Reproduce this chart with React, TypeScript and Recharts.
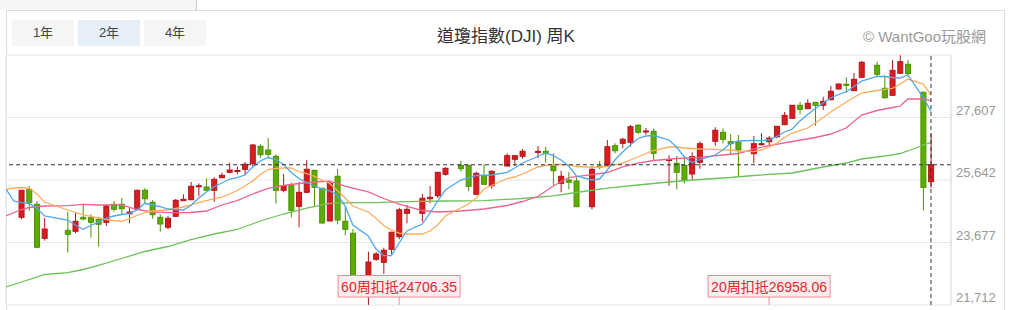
import React from "react";
import {
  ComposedChart,
  Bar,
  Line,
  XAxis,
  YAxis,
  CartesianGrid,
  ReferenceLine,
  ReferenceDot,
} from "recharts";

// weekly candles, one per slot (0..118); null = empty slot on the axis
const opens = [
  24469, 25350, 24878, 23809, null, null, 24061, 24029, 24469, 24457,
  24406, 24312, 24878, 24878, 24582, 24721, 25318, 24941, 24469, 24155,
  24501, 24991, 25023, 25431, 25422, 25318, 25714, 25884, 25909, 25978,
  26154, 26702, 26585, 26387, 25318, 25475, 24815, 25255, 25947, 25381,
  24353, 25758, 24344, 23966, null, 22309, 23149, 23054, 23463, 23859,
  24595, null, 24595, 25054, 25148, 25821, null, 26104, 26104, 25192,
  25790, 25463, null, 26082, 26293, 26387, null, 26516, 26544, 26082,
  25538, 25642, 25611, null, 24803, 26082, 26104, 26720, 26796, 26827,
  27362, 27158, 27173, null, 26255, 26167, 26104, 25831, 26199, null,
  26859, 27142, 26846, 26827, null, 26469, 26752, 26846, 27003, 27381,
  27582, 27991, 27884, 28085, 27991, 28167, 28503, 28651, 28450, 28871,
  null, 29248, 28525, 28305, 28997, 29280, null, 28402, 25590,
];
const highs = [
  25330, 25453, 24982, 24447, null, null, 24645, 24627, 24856, 24564,
  24488, 24878, 24982, 25076, 24784, 25340, 25390, 25013, 24564, 24510,
  25045, 25192, 25579, 25538, 25695, 25727, 25872, 26186, 26060, 26208,
  26774, 26765, 26962, 26450, 25831, 25557, 25579, 26271, 25960, 25395,
  25611, 25988, 24825, 24101, null, 23388, 23380, 23514, 24017, 24771,
  24856, null, 25202, 25453, 25890, 26041, null, 26239, 26110, 25903,
  26136, 25947, null, 26481, 26415, 26617, null, 26711, 26690, 26481,
  25934, 25894, 25727, null, 26082, 26239, 26900, 26796, 26972, 27371,
  27403, 27277, 27255, null, 26419, 26397, 26397, 26513, 26859, null,
  27299, 27267, 27088, 27057, null, 27025, 27110, 27025, 27340, 27780,
  28000, 28094, 28179, 28090, 28261, 28597, 28680, 28871, 29006, 29383,
  null, 29361, 28934, 29415, 29568, 29415, null, 28410, 27090,
];
const lows = [
  24406, 24677, 23500, 23734, null, null, 23356, 23966, 24369, 23828,
  23545, 24196, 24645, 24573, 24281, 24700, 24909, 24425, 24017, 24092,
  24490, 24980, 25004, 25139, 25300, 24960, 25700, 25853, 25821, 25799,
  26041, 26343, 26312, 24909, 25255, 24469, 24155, 25230, 24825, 24270,
  24340, 24249, 23903, 22372, null, 21712, 23100, 22687, 23315, 23778,
  24281, null, 24331, 24909, 25076, 25777, null, 25903, 25287, 25180,
  25500, 25369, null, 26070, 26082, 26312, null, 26324, 26186, 25475,
  25255, 25350, 24790, null, 24721, 25978, 26060, 26481, 26639, 26689,
  27079, 27066, 26239, null, 25463, 25350, 25538, 25642, 25997, null,
  26720, 26796, 26428, 25746, null, 26167, 26727, 26711, 26953, 27370,
  27570, 27708, 27870, 27349, 27843, 28150, 28490, 28399, 28440, 28860,
  null, 28890, 28198, 28290, 28980, 28897, null, 24681, 25391,
];
const closes = [
  25318, 24941, 23526, 24101, null, null, 23935, 24344, 24416, 24312,
  24249, 24825, 24721, 24740, 24636, 25318, 25054, 24551, 24259, 24438,
  25004, 25035, 25444, 25463, 25318, 25664, 25790, 25956, 25941, 26136,
  26742, 26437, 26450, 25318, 25453, 24689, 25255, 25978, 25413, 24290,
  25538, 24384, 24092, 22435, null, 23064, 23315, 23432, 23998, 24706.35,
  24721, null, 25067, 25098, 25884, 26010, null, 25997, 25444, 25853,
  25507, 25916, null, 26406, 26406, 26544, null, 26541, 26469, 25934,
  25758, 25570, 24803, null, 25978, 26051, 26689, 26563, 26922, 27318,
  27142, 27183, 26481, null, 26287, 25884, 25633, 26375, 26783, null,
  27205, 26922, 26783, 26585, null, 26783, 26783, 26958.06, 27330, 27676,
  27991, 27865, 28053, 27991, 28116, 28431, 28660, 28619, 28808, 29343,
  null, 28965, 28230, 29091, 29361, 28991, null, 25409, 26121,
];

// moving averages: [slot, value]
const ma5 = [
  [-2, 25359], [-1, 24982], [0, 24928], [1, 24903], [2, 24761], [3, 24510],
  [6, 24384], [7, 24227], [8, 24092], [9, 24211], [10, 24321], [11, 24447],
  [12, 24510], [13, 24557], [14, 24595], [15, 24699], [16, 24909], [17, 24856],
  [18, 24802], [19, 24730], [20, 24714], [21, 24699], [22, 24840], [23, 25076],
  [24, 25265], [25, 25431], [26, 25547], [27, 25673], [28, 25720], [29, 25799],
  [30, 26051], [31, 26239], [32, 26349], [33, 26286], [34, 26129], [35, 25878],
  [36, 25689], [37, 25563], [38, 25453], [39, 25359], [40, 25302], [41, 25170],
  [42, 24824], [43, 24227], [45, 23881], [46, 23472], [47, 23268], [48, 23262],
  [49, 23661], [50, 24038], [52, 24258], [53, 24604], [54, 24982], [55, 25327],
  [57, 25642], [58, 25705], [59, 25790], [60, 25783], [61, 25799], [63, 25878],
  [64, 26019], [65, 26176], [67, 26381], [68, 26491], [69, 26412], [70, 26271],
  [71, 26082], [72, 25768], [74, 25642], [75, 25673], [76, 25956], [77, 26271],
  [78, 26522], [79, 26742], [80, 26947], [81, 27025], [82, 27041], [84, 26900],
  [85, 26679], [86, 26365], [87, 26192], [88, 26286], [90, 26428], [91, 26585],
  [92, 26796], [93, 26868], [95, 26890], [96, 26877], [97, 26900], [98, 27009],
  [99, 27151], [100, 27245], [101, 27497], [102, 27701], [103, 27890], [104, 28063],
  [105, 28220], [106, 28330], [107, 28409], [108, 28581], [109, 28754], [111, 28896],
  [112, 28896], [113, 28864], [114, 28849], [115, 28943], [117, 28231], [118, 27804],
];
const ma10 = [
  [-2, 25349], [-1, 25390], [0, 25406], [1, 25390], [2, 25202], [3, 24950],
  [6, 24699], [7, 24620], [8, 24542], [9, 24500], [10, 24447], [11, 24400],
  [12, 24369], [13, 24344], [14, 24431], [15, 24526], [16, 24620], [17, 24667],
  [18, 24683], [19, 24699], [20, 24746], [21, 24793], [22, 24856], [23, 24934],
  [24, 24997], [25, 25060], [26, 25107], [27, 25202], [28, 25312], [29, 25453],
  [30, 25610], [31, 25815], [32, 25972], [33, 26010], [34, 26019], [35, 26019],
  [36, 25909], [37, 25846], [38, 25758], [39, 25642], [40, 25532], [41, 25312],
  [42, 25076], [43, 24824], [45, 24636], [46, 24438], [47, 24211], [48, 24070],
  [49, 23975], [50, 23944], [52, 23944], [53, 24038], [54, 24227], [55, 24510],
  [57, 24761], [58, 24887], [59, 25076], [60, 25359], [61, 25469], [63, 25689],
  [64, 25736], [65, 25830], [67, 26051], [68, 26098], [69, 26129], [70, 26135],
  [71, 26114], [72, 26066], [74, 26041], [75, 26051], [76, 26066], [77, 26114],
  [78, 26176], [79, 26271], [80, 26365], [81, 26475], [82, 26569], [84, 26679],
  [85, 26679], [86, 26648], [87, 26632], [88, 26616], [90, 26607], [91, 26591],
  [92, 26585], [93, 26554], [95, 26532], [96, 26585], [97, 26679], [98, 26805],
  [99, 26978], [100, 27119], [101, 27198], [102, 27277], [103, 27434], [104, 27607],
  [105, 27780], [106, 27937], [107, 28094], [108, 28236], [109, 28377], [111, 28456],
  [112, 28488], [113, 28519], [114, 28660], [115, 28817], [117, 28660], [118, 28314],
];
const ma20 = [
  [-2, 24510], [0, 24714], [1, 24777], [3, 24825], [6, 24834], [8, 24878],
  [10, 24856], [13, 24856], [15, 24714], [17, 24642], [19, 24614], [22, 24620],
  [24, 24667], [26, 24856], [28, 24997], [30, 25202], [32, 25381], [34, 25469],
  [36, 25532], [38, 25579], [40, 25604], [42, 25453], [43, 25390], [45, 25265],
  [47, 25060], [49, 24887], [52, 24683], [54, 24636], [57, 24667], [60, 24730],
  [63, 24840], [65, 24966], [67, 25123], [69, 25453], [71, 25720], [74, 25808],
  [76, 25878], [78, 26051], [80, 26176], [82, 26255], [85, 26318], [88, 26355],
  [91, 26428], [93, 26475], [95, 26616], [97, 26726], [100, 26852], [103, 26978],
  [105, 27088], [107, 27277], [109, 27685], [111, 27827], [113, 27921], [114, 27968],
  [115, 28188], [117, 28188], [118, 28141],
];
const ma60 = [
  [-2, 22278], [0, 22435], [2, 22592], [3, 22671], [6, 22727], [8, 22828],
  [10, 22954], [13, 23174], [16, 23394], [19, 23551], [22, 23771], [25, 23944],
  [28, 24086], [31, 24353], [34, 24573], [37, 24761], [40, 24903], [43, 24928],
  [46, 24928], [50, 24960], [55, 24982], [60, 24991], [65, 25060], [69, 25145],
  [72, 25249], [76, 25384], [80, 25485], [84, 25579], [88, 25658], [92, 25720],
  [95, 25783], [100, 25862], [104, 26051], [107, 26176], [109, 26302], [112, 26396],
  [114, 26475], [115, 26554], [117, 26742], [118, 26821],
];

// 扣抵 markers
const deductions = [
  { slot: 49, weeks: 60, value: 24706.35 },
  { slot: 97, weeks: 20, value: 26958.06 },
];

const yTicks = [21712, 23677, 25642, 27607, 29572];
const gridSlots = [-1.18, 9.64, 22.74, 35.84, 46.17, 56.99, 67.71, 81.87, 92.64, 106.76];
const lastClose = 26121;

const lookup = (pts: number[][]) => {
  const m: Record<number, number> = {};
  pts.forEach(([s, v]) => (m[s] = v));
  return m;
};
const m5 = lookup(ma5);
const m10 = lookup(ma10);
const m20 = lookup(ma20);
const m60 = lookup(ma60);

const rows: any[] = [];
for (let i = -2; i < opens.length; i++) {
  const o = i >= 0 ? opens[i] : null;
  const h = i >= 0 ? highs[i] : null;
  const l = i >= 0 ? lows[i] : null;
  const c = i >= 0 ? closes[i] : null;
  rows.push({
    i,
    o,
    h,
    l,
    c,
    range: o == null ? null : [l, h],
    ma5: m5[i] ?? null,
    ma10: m10[i] ?? null,
    ma20: m20[i] ?? null,
    ma60: m60[i] ?? null,
  });
}

const FONT = "'Liberation Sans', Arial, 'Noto Sans CJK TC', sans-serif";

const Candle = (props: any) => {
  const { x, y, width, height, payload } = props;
  if (!payload || payload.o == null) return null;
  const { o, h, l, c } = payload;
  const span = h - l || 1;
  const py = (v: number) => y + (height * (h - v)) / span;
  const up = c >= o;
  const fill = up ? "#d71d20" : "#5eab05";
  const edge = up ? "#b3161a" : "#4a9300";
  const top = py(Math.max(o, c));
  const bot = py(Math.min(o, c));
  const cx = x + width / 2;
  return (
    <g>
      <line x1={cx} x2={cx} y1={y} y2={y + height} stroke={edge} strokeWidth={1} />
      <rect
        x={x + 0.5}
        y={top}
        width={width - 1}
        height={Math.max(bot - top, 1)}
        fill={fill}
        stroke={edge}
        strokeWidth={1}
      />
    </g>
  );
};

const YTick = (props: any) => {
  const { x, y, payload } = props;
  if (payload.value >= yTicks[yTicks.length - 1]) return <g />;
  return (
    <text x={x} y={y - 3} fill="#999" fontSize={13} fontFamily={FONT} textAnchor="start">
      {payload.value.toLocaleString("en-US")}
    </text>
  );
};

const deductionShape = (label: string) => (props: any) => {
  const { cx, cy } = props;
  return (
    <g>
      <line x1={cx} x2={cx} y1={cy - 8} y2={cy} stroke="#ee8a98" />
      <rect x={cx - 61} y={cy - 29.5} width={122} height={21.5} fill="#fdedf0" stroke="#ee8a98" />
      <text
        x={cx}
        y={cy - 13.5}
        textAnchor="middle"
        fontSize={14}
        fontFamily={FONT}
        fill="#e3262f"
      >
        {label}
      </text>
    </g>
  );
};

const btn = (left: number, label: string, active: boolean) => (
  <div
    key={label}
    style={{
      position: "absolute",
      left,
      top: 20,
      width: 62,
      height: 26,
      lineHeight: "26px",
      textAlign: "center",
      fontSize: 13,
      color: "#444",
      background: active ? "#e6eef8" : "#f5f5f5",
    }}
  >
    {label}
  </div>
);

export default function App() {
  return (
    <div
      style={{
        position: "absolute",
        left: 0,
        top: 0,
        width: 1024,
        height: 310,
        overflow: "hidden",
        background: "#fff",
        fontFamily: FONT,
      }}
    >
      <div
        style={{
          position: "absolute",
          left: 0,
          top: 0,
          width: 196,
          height: 10,
          background: "#f6f6f6",
          borderRight: "1px solid #ccc",
        }}
      />
      <div
        style={{
          position: "absolute",
          left: 6,
          top: 10,
          width: 999,
          height: 320,
          border: "1px solid #ddd",
          boxSizing: "border-box",
        }}
      />
      {btn(12, "1年", false)}
      {btn(78, "2年", true)}
      {btn(144, "4年", false)}
      <div
        style={{
          position: "absolute",
          left: 0,
          width: 1012,
          top: 22,
          textAlign: "center",
          fontSize: 17,
          color: "#333",
        }}
      >
        道瓊指數(DJI) 周K
      </div>
      <div
        style={{
          position: "absolute",
          right: 38,
          top: 25,
          fontSize: 15,
          color: "#999",
        }}
      >
        © WantGoo玩股網
      </div>
      <div style={{ position: "absolute", left: 0, top: 0 }}>
        <ComposedChart
          width={1005}
          height={310}
          data={rows}
          margin={{ top: 55, right: 0, bottom: 5, left: 6 }}
        >
          <CartesianGrid stroke="#e6e6e6" />
          <XAxis
            dataKey="i"
            type="number"
            domain={[-2, 120.6]}
            ticks={gridSlots}
            interval={0}
            allowDataOverflow
            tick={false}
            tickLine={false}
            axisLine={{ stroke: "#c8c8c8" }}
            height={0}
          />
          <YAxis
            orientation="right"
            domain={[yTicks[0], yTicks[yTicks.length - 1]]}
            ticks={yTicks}
            interval={0}
            allowDataOverflow
            width={54}
            tickLine={false}
            tickSize={0}
            tickMargin={5}
            axisLine={{ stroke: "#ddd" }}
            tick={<YTick />}
          />
          <Line dataKey="ma60" stroke="#6cc35a" strokeWidth={1.3} dot={false} connectNulls isAnimationActive={false} />
          <Line dataKey="ma20" stroke="#f0648f" strokeWidth={1.3} dot={false} connectNulls isAnimationActive={false} />
          <Line dataKey="ma10" stroke="#ffac5a" strokeWidth={1.3} dot={false} connectNulls isAnimationActive={false} />
          <Line dataKey="ma5" stroke="#4fa8ec" strokeWidth={1.3} dot={false} connectNulls isAnimationActive={false} />
          <Bar dataKey="range" barSize={6} shape={<Candle />} isAnimationActive={false} />
          <ReferenceLine y={lastClose} stroke="#333" strokeDasharray="4 3" />
          <ReferenceLine x={opens.length - 1} stroke="#333" strokeDasharray="4 3" />
          {deductions.map((d) => (
            <ReferenceDot
              key={d.slot}
              x={d.slot}
              y={yTicks[0]}
              r={0}
              shape={deductionShape(`${d.weeks}周扣抵${d.value.toFixed(2)}`)}
            />
          ))}
        </ComposedChart>
      </div>
    </div>
  );
}
